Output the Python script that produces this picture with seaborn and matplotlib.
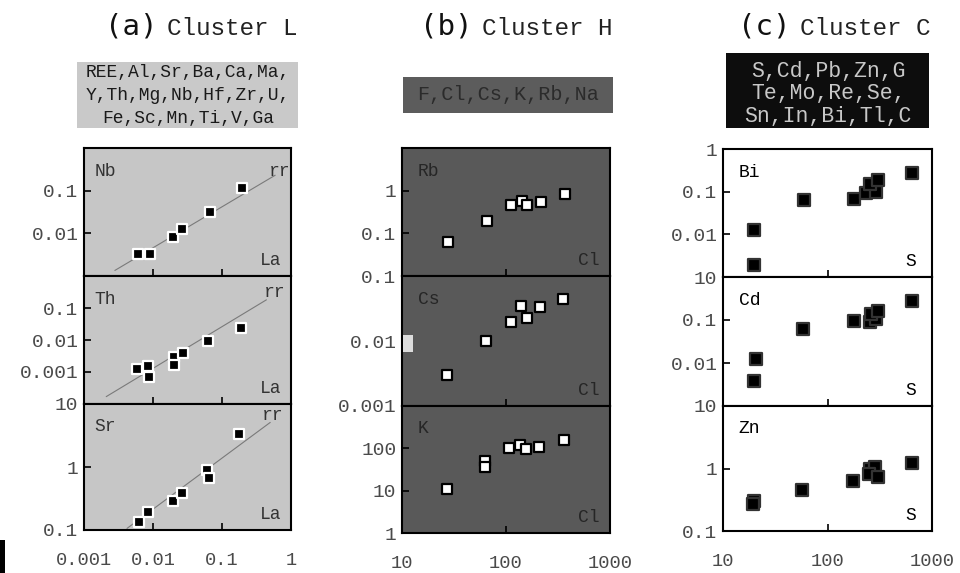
import matplotlib
matplotlib.use("Agg")
import matplotlib.pyplot as plt
import seaborn as sns
from matplotlib.patches import Rectangle
from matplotlib.ticker import NullLocator

# データ
# (a) Cluster L : x = La
nb_x = [0.0061, 0.0091, 0.0197, 0.0266, 0.067, 0.193]
nb_y = [0.0032, 0.0032, 0.0083, 0.0129, 0.031, 0.116]
th_x = [0.0059, 0.0084, 0.0087, 0.020, 0.020, 0.027, 0.063, 0.187]
th_y = [0.00126, 0.0015, 0.00072, 0.0029, 0.0017, 0.0038, 0.0091, 0.024]
sr_x = [0.0063, 0.0086, 0.0193, 0.026, 0.060, 0.065, 0.178]
sr_y = [0.135, 0.195, 0.29, 0.38, 0.89, 0.66, 3.4]
# 回帰線 (rr) の端点
nb_rr_x = [0.0028, 0.59]
nb_rr_y = [0.00135, 0.23]
th_rr_x = [0.0021, 0.44]
th_rr_y = [0.00017, 0.18]
sr_rr_x = [0.0042, 0.50]
sr_rr_y = [0.106, 5.1]

# (b) Cluster H : x = Cl
rb_x = [27.5, 65, 111, 141, 160, 217, 369]
rb_y = [0.064, 0.19, 0.46, 0.58, 0.46, 0.53, 0.83]
cs_x = [27, 64, 111, 139, 158, 212, 356]
cs_y = [0.0030, 0.0101, 0.0198, 0.0345, 0.0223, 0.033, 0.044]
k_x = [27, 63, 63, 108, 136, 155, 209, 363]
k_y = [11.1, 49, 37, 101, 121, 96, 110, 159]

# (c) Cluster C : x = S
bi_x = [20, 20, 60, 178, 236, 294, 254, 304, 649]
bi_y = [0.0125, 0.0019, 0.063, 0.067, 0.094, 0.099, 0.15, 0.19, 0.28]
cd_x = [20.5, 19.8, 58, 178, 257, 294, 263, 304, 649]
cd_y = [0.0124, 0.0039, 0.062, 0.096, 0.088, 0.105, 0.14, 0.165, 0.27]
zn_x = [20, 19.5, 57.5, 175, 254, 282, 249, 304, 649]
zn_y = [0.30, 0.27, 0.45, 0.63, 0.98, 1.07, 0.83, 0.74, 1.23]

# 軸の目盛り
a_xticks = [0.001, 0.01, 0.1, 1]
a_xlabels = ["0.001", "0.01", "0.1", "1"]
bc_xticks = [10, 100, 1000]
bc_xlabels = ["10", "100", "1000"]

W, H = 960, 573

sns.set_style("ticks")
plt.rcParams['font.family'] = ['Liberation Mono', 'DejaVu Sans Mono']

fig = plt.figure(figsize=(W / 100, H / 100), dpi=100)


def px_box(x0, x1, y0, y1):
    return [x0 / W, 1 - y1 / H, (x1 - x0) / W, (y1 - y0) / H]


columns = [
    dict(x=(84, 291), rows=[148, 276, 404, 530], xlim=(0.001, 1),
         xticks=a_xticks, xlabels=a_xlabels, bg='#c6c6c6', xname='La',
         fc='black', ec='white', txt='#333333', line=True, ms=60,
         panels=[
             dict(name='Nb', x=nb_x, y=nb_y, ylim=(0.001, 1), yt=[0.01, 0.1],
                  yl=['0.01', '0.1'], rx=nb_rr_x, ry=nb_rr_y, rpos=(0.945, 0.815)),
             dict(name='Th', x=th_x, y=th_y, ylim=(1e-4, 1), yt=[0.001, 0.01, 0.1],
                  yl=['0.001', '0.01', '0.1'], rx=th_rr_x, ry=th_rr_y, rpos=(0.92, 0.87)),
             dict(name='Sr', x=sr_x, y=sr_y, ylim=(0.1, 10), yt=[0.1, 1, 10],
                  yl=['0.1', '1', '10'], rx=sr_rr_x, ry=sr_rr_y, rpos=(0.91, 0.91)),
         ]),
    dict(x=(402, 610), rows=[148, 276, 406, 533], xlim=(10, 1000),
         xticks=bc_xticks, xlabels=bc_xlabels, bg='#595959', xname='Cl',
         fc='white', ec='black', txt='#262626', line=False, ms=60,
         panels=[
             dict(name='Rb', x=rb_x, y=rb_y, ylim=(0.01, 10), yt=[0.1, 1], yl=['0.1', '1']),
             dict(name='Cs', x=cs_x, y=cs_y, ylim=(0.001, 0.1), yt=[0.001, 0.01, 0.1],
                  yl=['0.001', '0.01', '0.1']),
             dict(name='K', x=k_x, y=k_y, ylim=(1, 1000), yt=[1, 10, 100], yl=['1', '10', '100']),
         ]),
    dict(x=(723, 932), rows=[149, 277, 406, 531], xlim=(10, 1000),
         xticks=bc_xticks, xlabels=bc_xlabels, bg='white', xname='S',
         fc='black', ec='#333333', txt='black', line=False, ms=70,
         panels=[
             dict(name='Bi', x=bi_x, y=bi_y, ylim=(0.001, 1), yt=[0.01, 0.1, 1],
                  yl=['0.01', '0.1', '1']),
             dict(name='Cd', x=cd_x, y=cd_y, ylim=(0.001, 1), yt=[0.01, 0.1, 1],
                  yl=['0.01', '0.1', '10']),
             dict(name='Zn', x=zn_x, y=zn_y, ylim=(0.1, 10), yt=[0.1, 1, 10],
                  yl=['0.1', '1', '10']),
         ]),
]

for col in columns:
    x0, x1 = col['x']
    rows = col['rows']
    for i, p in enumerate(col['panels']):
        ax = fig.add_axes(px_box(x0, x1, rows[i], rows[i + 1]))
        ax.set_facecolor(col['bg'])
        ax.set_xscale('log')
        ax.set_yscale('log')
        if col['line']:
            sns.lineplot(x=p['rx'], y=p['ry'], ax=ax, color='#7a7a7a', lw=0.8, sort=False)
        sns.scatterplot(x=p['x'], y=p['y'], ax=ax, marker='s', s=col['ms'],
                        color=col['fc'], edgecolor=col['ec'], linewidth=1.6, zorder=3)
        ax.set_xlim(*col['xlim'])
        ax.set_ylim(*p['ylim'])
        ax.set_xticks(col['xticks'], col['xlabels'])
        ax.set_yticks(p['yt'], p['yl'])
        ax.xaxis.set_minor_locator(NullLocator())
        ax.yaxis.set_minor_locator(NullLocator())
        ax.tick_params(direction='in', length=5, width=1.2, color='black',
                       labelsize=14, labelcolor='#4a4a4a', pad=4)
        if i < 2:
            ax.tick_params(axis='x', labelbottom=False)
        else:
            ax.tick_params(axis='x', labelsize=13.5, pad=16)
        for s in ax.spines.values():
            s.set_linewidth(1.5)
            s.set_color('black')
        ax.set_xlabel('')
        ax.set_ylabel('')
        ax.text(0.05 if col['line'] else 0.075, 0.82, p['name'], transform=ax.transAxes,
                fontsize=13, color=col['txt'], ha='left', va='center')
        ax.text(0.9, 0.12, col['xname'], transform=ax.transAxes,
                fontsize=13, color=col['txt'], ha='center', va='center')
        if col['line']:
            ax.text(p['rpos'][0], p['rpos'][1], 'rr', transform=ax.transAxes,
                    fontsize=13, color=col['txt'], ha='center', va='center')

# タイトル
titles = [("(a)", "Cluster L", 105, 167), ("(b)", "Cluster H", 420, 482), ("(c)", "Cluster C", 738, 800)]
for tag, name, xt, xn in titles:
    fig.text(xt / W, 1 - 35 / H, tag, fontsize=21, family='DejaVu Sans Mono',
             va='baseline', ha='left', color='#111111')
    fig.text(xn / W, 1 - 35 / H, name, fontsize=17.5, va='baseline', ha='left', color='#222222')

# 元素ボックス
fig.patches.append(Rectangle((77 / W, 1 - 128 / H), 221 / W, 66 / H,
                             transform=fig.transFigure, fc='#c9c9c9', ec='none'))
for line, yb in zip(["REE,Al,Sr,Ba,Ca,Ma,", "Y,Th,Mg,Nb,Hf,Zr,U,", "Fe,Sc,Mn,Ti,V,Ga"], [77, 100, 123]):
    fig.text(188 / W, 1 - yb / H, line, fontsize=13, ha='center', va='baseline', color='#1a1a1a')

fig.patches.append(Rectangle((403 / W, 1 - 113 / H), 210 / W, 36 / H,
                             transform=fig.transFigure, fc='#5c5c5c', ec='none'))
fig.text(508 / W, 1 - 100 / H, "F,Cl,Cs,K,Rb,Na", fontsize=14.5, ha='center', va='baseline',
         color='#2b2b2b')

fig.patches.append(Rectangle((726 / W, 1 - 128 / H), 203 / W, 75 / H,
                             transform=fig.transFigure, fc='#0d0d0d', ec='none'))
for line, yb in zip(["S,Cd,Pb,Zn,G", "Te,Mo,Re,Se,", "Sn,In,Bi,Tl,C"], [77, 99, 122]):
    fig.text(828 / W, 1 - yb / H, line, fontsize=15.5, ha='center', va='baseline', color='#c8c8c8')

# 左下の黒い縦線と小さな明るい部分 (原図のスキャン跡)
fig.patches.append(Rectangle((0, 0), 5 / W, 33 / H, transform=fig.transFigure,
                             fc='black', ec='none', zorder=10))
fig.patches.append(Rectangle((403 / W, 1 - 352 / H), 10 / W, 17 / H, transform=fig.transFigure,
                             fc='#dcdcdc', ec='none', zorder=10))

fig.savefig("out.png", dpi=100)
